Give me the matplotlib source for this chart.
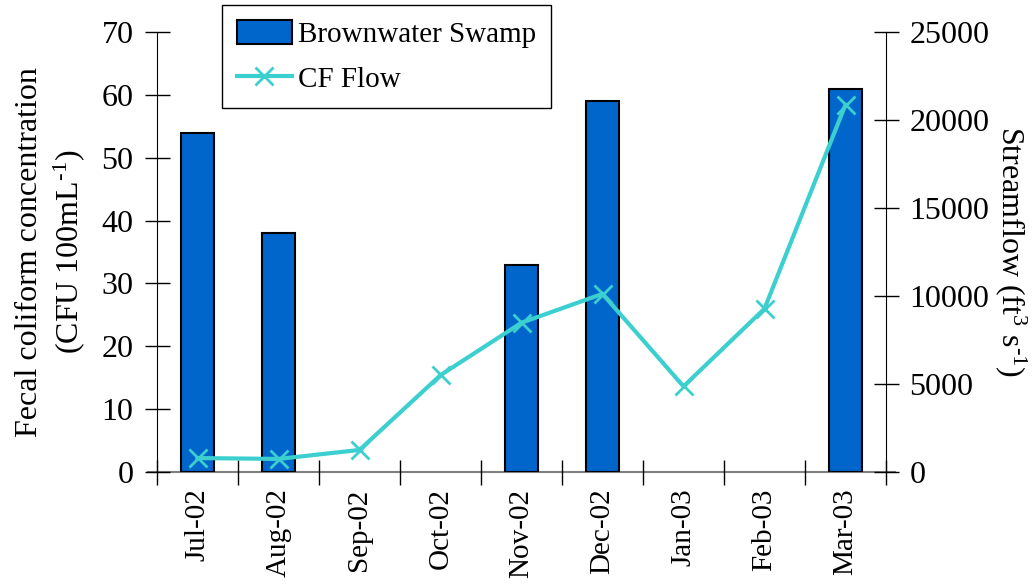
import matplotlib
matplotlib.use("Agg")
import matplotlib.pyplot as plt
import numpy as np

months = ["Jul-02", "Aug-02", "Sep-02", "Oct-02", "Nov-02", "Dec-02", "Jan-03", "Feb-03", "Mar-03"]
swamp = [54, 38, np.nan, np.nan, 33, 59, np.nan, np.nan, 61]
flow = [790, 740, 1250, 5500, 8480, 10120, 4860, 9280, 20870]

plt.rcParams['font.family'] = ['Liberation Serif', 'DejaVu Serif']
plt.rcParams['mathtext.fontset'] = 'custom'
plt.rcParams['mathtext.rm'] = 'Liberation Serif'
plt.rcParams['mathtext.it'] = 'Liberation Serif'
plt.rcParams['mathtext.default'] = 'regular'
FS = 23
FSX = 21

fig = plt.figure(figsize=(10.34, 5.87), dpi=100)
ax = fig.add_axes([157/1034, 0.196, 729/1034, 0.7495])
x = np.arange(len(months))
bars = ax.bar(x, swamp, width=0.41, color='#0066CC', edgecolor='black', linewidth=1.5,
              label='Brownwater Swamp', zorder=2)
ax.set_xlim(-0.5, len(months) - 0.5)
ax.set_ylim(0, 70)
ax.set_yticks(range(0, 71, 10))
ax.tick_params(axis='y', direction='inout', length=18, width=1, labelsize=FS, pad=8)
ax.set_xticks(x)
ax.set_xticklabels(months, rotation=90, fontsize=FSX)
ax.tick_params(axis='x', which='major', length=0, pad=12)
ax.set_xticks(np.arange(-0.5, len(months), 1.0), minor=True)
ax.tick_params(axis='x', which='minor', direction='inout', length=18, width=1)
ax.spines['top'].set_visible(False)
ax.spines['right'].set_visible(False)
ax.spines['bottom'].set_visible(False)
ax.plot([-0.013, 1.013], [0, 0], transform=ax.transAxes, color='#808080',
        linewidth=1.5, clip_on=False, zorder=1)
ax.set_ylabel('Fecal coliform concentration\n(CFU 100mL$^{\\text{-1}}$)', fontsize=FS,
              linespacing=1.3, labelpad=10)

ax2 = ax.twinx()
line, = ax2.plot(x, flow, color='#3CCFCF', linewidth=3, marker='x', markersize=13,
                 markeredgewidth=2, label='CF Flow', zorder=3)
ax2.set_ylim(0, 25000)
ax2.set_yticks(range(0, 25001, 5000))
ax2.tick_params(axis='y', direction='inout', length=18, width=1, labelsize=FS, pad=8)
ax2.spines['top'].set_visible(False)
ax2.spines['left'].set_visible(False)
ax2.spines['bottom'].set_visible(False)
ax2.set_ylabel('Streamflow (ft$^{3}$ s$^{\\text{-1}}$)', fontsize=FS, rotation=270, labelpad=28)

leg = fig.legend(handles=[bars, line], labels=['Brownwater Swamp', 'CF Flow'],
                 loc='upper left', bbox_to_anchor=(222/1034, 1 - 5/587), fontsize=FSX,
                 frameon=True, fancybox=False, edgecolor='black', framealpha=1,
                 handlelength=1.9, handleheight=0.9, handletextpad=0.2, borderpad=0.5,
                 labelspacing=0.6, borderaxespad=0)
leg.get_frame().set_linewidth(1)

fig.savefig('out.png', dpi=100)
